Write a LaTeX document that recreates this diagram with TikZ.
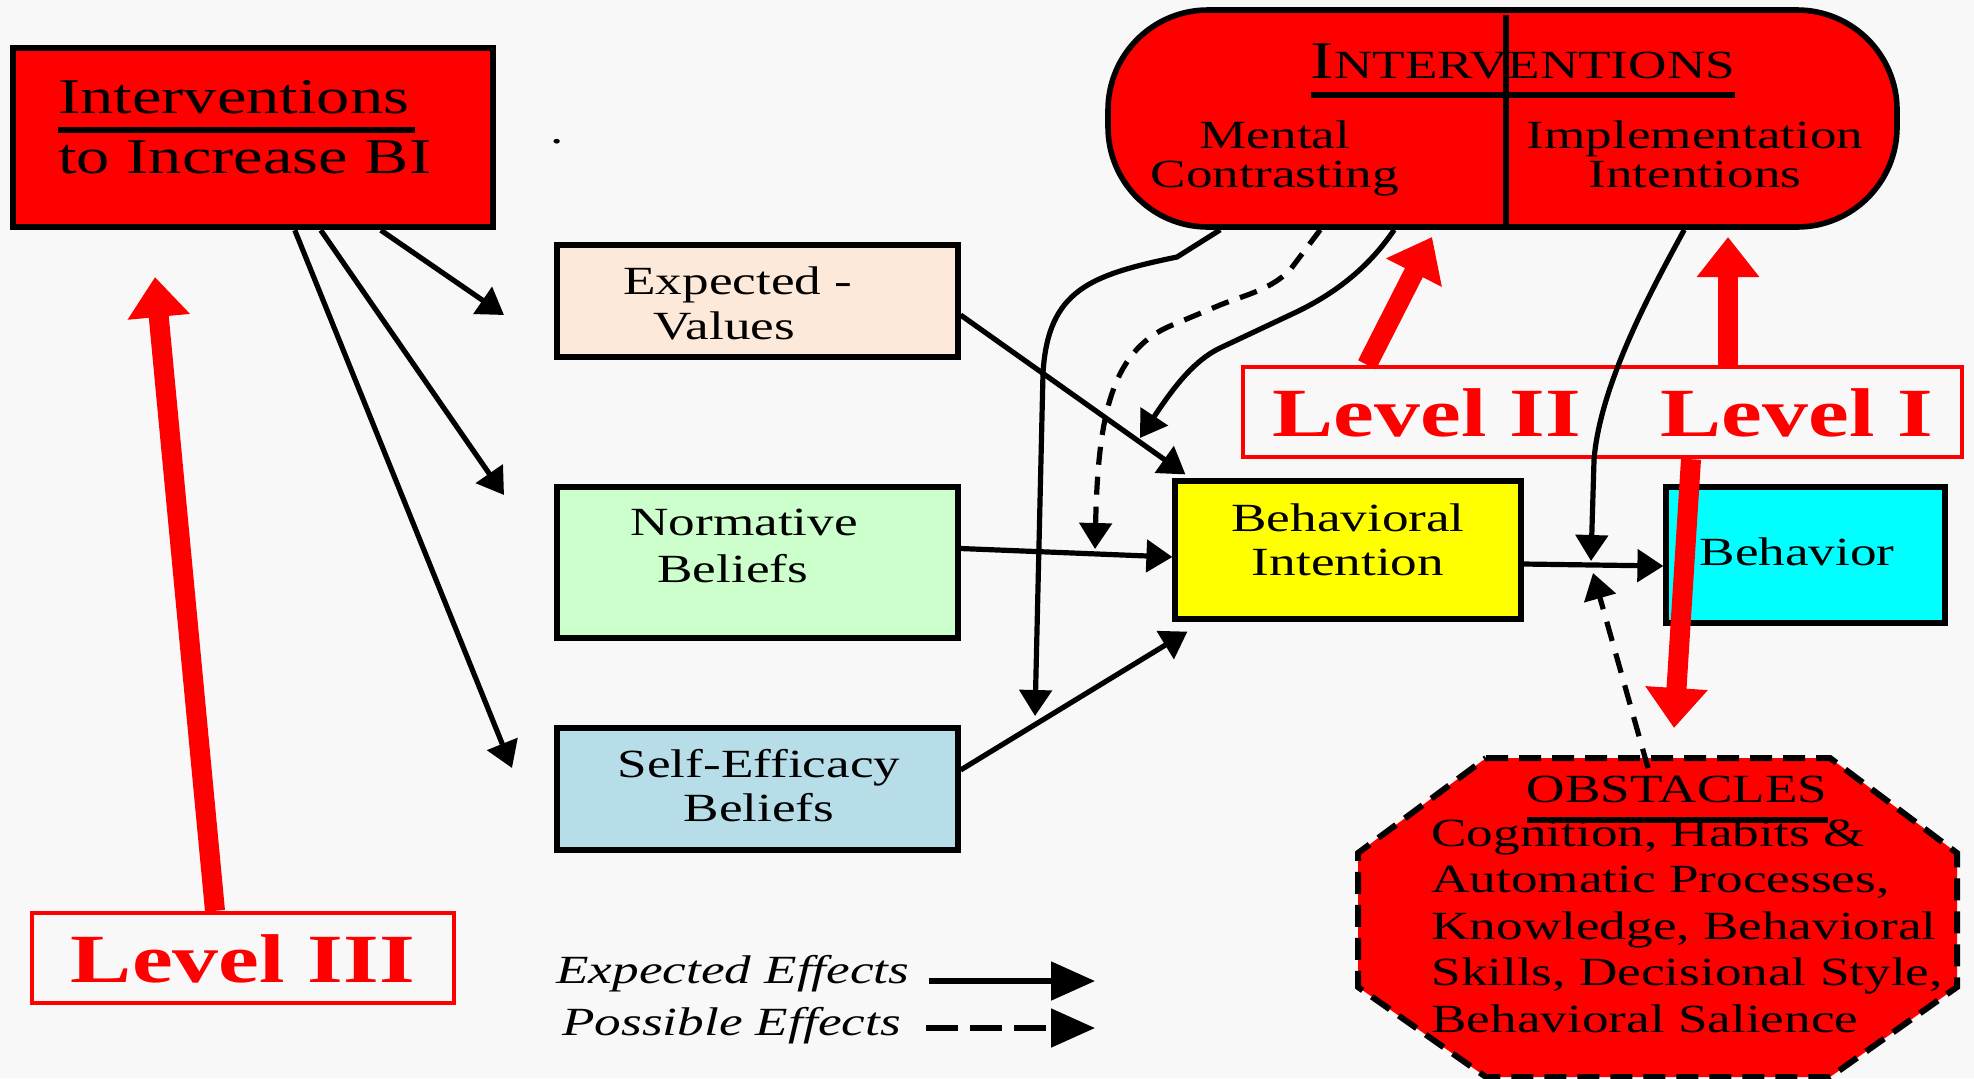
\documentclass[tikz,border=0pt]{standalone}
\usepackage{fontspec}
\setmainfont{Liberation Serif}[FakeStretch=1.33]
\usetikzlibrary{arrows.meta,calc}
\definecolor{bgc}{RGB}{248,248,248}
\definecolor{peach}{RGB}{253,233,217}
\definecolor{mint}{RGB}{204,255,204}
\definecolor{lblue}{RGB}{183,222,232}
\definecolor{pred}{RGB}{255,0,0}
\definecolor{pyellow}{RGB}{255,255,0}
\definecolor{pcyan}{RGB}{0,255,255}
\newcommand{\MyLines}[2][c]{\begin{tabular}[t]{@{}#1@{}}#2\end{tabular}}
\begin{document}
\begin{tikzpicture}[x=0.5pt,y=-0.5pt,
 box/.style={draw=black,line width=2.6pt,inner sep=0pt,rectangle},
 tx/.style={inner sep=0pt,anchor=base,font=\fontsize{20}{24}\selectfont},
 conn/.style={line width=2.6pt,-{Triangle[length=13pt,width=16pt]}},
 possible/.style={conn,dash pattern=on 9pt off 6pt},
 redarrow/.style={draw=pred,line width=10pt,-{Triangle[length=20pt,width=30pt]}},
 lvbox/.style={draw=pred,line width=2.2pt,inner sep=0pt,rectangle},
 lvtext/.style={tx,text=pred,font=\bfseries\fontsize{34.5}{40}\selectfont},
 legarrow/.style={line width=2.6pt,-{Triangle[length=22pt,width=19pt]}}
]
\fill[bgc] (0,0) rectangle (1974,1078);
\useasboundingbox (0,0) rectangle (1974,1078);

% Interventions to increase BI
\node[box,line width=3.2pt,fill=pred,minimum width=240pt,minimum height=89.5pt] (ib) at (253,137.5) {};
\node[tx,anchor=base west,font=\fontsize{25}{30}\selectfont] (ibt) at (58,113) {\MyLines[l]{Interventions\\to Increase BI}};
\draw[line width=2.8pt] ($(ibt.base west)+(0,17)$) -- ($(ibt.base west)+(357,17)$);
\node[tx] (dot) at (557,143) {.};

% Interventions pill
\node[draw,line width=2.8pt,fill=pred,rounded corners=50pt,minimum width=394.5pt,minimum height=108.5pt,inner sep=0pt] (pill) at (1502.5,118.5) {};
\draw[line width=2.6pt] ($(pill.north)+(3.5,8)$) -- ($(pill.south)+(3.5,0)$);
\node[tx] (intv) at (1523,78) {{\fontsize{26.5}{30}\selectfont I}NTERVENTIONS};
\draw[line width=2.8pt] ($(intv.base west)+(0,17)$) -- ($(intv.base east)+(0,17)$);
\node[tx,font=\fontsize{20}{19.5}\selectfont] (mc) at (1275,148) {\MyLines{Mental\\Contrasting}};
\node[tx,font=\fontsize{20}{19.5}\selectfont] (ii) at (1695,148) {\MyLines{Implementation\\Intentions}};

% determinant boxes
\node[box,fill=peach,minimum width=200.5pt,minimum height=56pt] (ev) at (757.5,301) {};
\node[tx,anchor=base west,font=\fontsize{20}{22.5}\selectfont] (evt) at (623,294) {\MyLines[l]{Expected -\\\hspace{15pt}Values}};
\node[box,fill=mint,minimum width=200.5pt,minimum height=75.5pt] (nb) at (757.5,562.5) {};
\node[tx,anchor=base west,font=\fontsize{20}{23.5}\selectfont] (nbt) at (630,535) {\MyLines[l]{Normative\\\hspace{13.5pt}Beliefs}};
\node[box,fill=lblue,minimum width=200.5pt,minimum height=61pt] (se) at (757.5,789) {};
\node[tx,font=\fontsize{20}{22}\selectfont] (set) at (759,777) {\MyLines{Self-Efficacy\\Beliefs}};
\node[box,fill=pyellow,minimum width=173pt,minimum height=69pt] (bi) at (1348,550) {};
\node[tx,font=\fontsize{20}{22}\selectfont] (bit) at (1348,531) {\MyLines{Behavioral\\Intention}};
\node[box,fill=pcyan,minimum width=139.5pt,minimum height=68pt] (beh) at (1805.5,555) {};
\node[tx] (beht) at (1797,565) {Behavior};

% obstacles octagon
\draw[fill=pred,line width=3pt,dash pattern=on 11pt off 5.5pt] (1486,758) -- (1830,758) -- (1957,853) -- (1957,987) -- (1830,1077) -- (1486,1077) -- (1358,987) -- (1358,853) -- cycle;
\node[tx] (obst) at (1677,802) {OBSTACLES};
\draw[line width=2.8pt] ($(obst.base west)+(0,18)$) -- ($(obst.base east)+(0,18)$);
\node[tx,anchor=base west,font=\fontsize{20}{23.25}\selectfont] (obsb) at (1431,846) {\MyLines[l]{Cognition, Habits \&\\Automatic Processes,\\Knowledge, Behavioral\\Skills, Decisional Style,\\Behavioral Salience}};
\coordinate (obsin) at (1648,768);

% level boxes
\node[lvbox,minimum width=211pt,minimum height=45pt] (lv3) at (243,958) {};
\node[lvtext] (lv3t) at (243,982) {Level III};
\node[lvbox,minimum width=359.5pt,minimum height=45pt] (lv12) at (1602.5,412) {};
\node[lvtext,anchor=base west] (lv2t) at (1272,436) {Level II};
\node[lvtext,anchor=base west] (lv1t) at (1660,436) {Level I};

% free ends
\coordinate (t1) at (504,315);
\coordinate (t2) at (504,495);
\coordinate (t3) at (512,768);
\coordinate (m4) at (1140,438);
\coordinate (m5) at (1095,549);
\coordinate (m6) at (1035,716);
\coordinate (m7) at (1591,561);
\coordinate (m7b) at (1593,573);
\coordinate (r3tip) at (155,277);
\coordinate (r2tip) at (1432,237);
\coordinate (r1tip) at (1728,237);
\coordinate (rdtip) at (1674,728);

% black connectors
\draw[conn] ($(ib.south west)+(371,0)$) -- (t1);
\draw[conn] ($(ib.south west)+(311,0)$) -- (t2);
\draw[conn] ($(ib.south west)+(285,0)$) -- (t3);
\draw[conn] ($(ev.east)+(0,14)$) -- ($(bi.north west)+(13,-4)$);
\draw[conn] ($(nb.east)+(0,-14)$) -- ($(bi.west)+(0,7)$);
\draw[conn] ($(se.east)+(0,-19)$) -- ($(bi.south west)+(15,10)$);
\draw[conn] ($(bi.east)+(0,14)$) -- ($(beh.west)+(0,11)$);
\draw[conn] ($(pill.south west)+(115,0)$) -- (1177,257) .. controls (1090,275) and (1048,290) .. (1043,373) -- (m6);
\draw[possible] ($(pill.south west)+(215,0)$) -- (1290,270) .. controls (1270,290) and (1245,295) .. (1220,305) -- (1170,326) .. controls (1110,352) and (1098,420) .. (m5);
\draw[conn] ($(pill.south west)+(289,0)$) .. controls (1375,258) and (1345,290) .. (1290,315) -- (1220,348) .. controls (1195,360) and (1175,385) .. (m4);
\draw[conn] ($(pill.south west)+(579,0)$) .. controls (1660,275) and (1600,380) .. (1594,460) -- (m7);
\draw[conn,dash pattern=on 10pt off 6.5pt] (obsin) -- (m7b);

% red arrows
\draw[redarrow] ($(lv3.north)+(-28,0)$) -- (r3tip);
\draw[redarrow] ($(lv12.north)+(-235.5,0)$) -- (r2tip);
\draw[redarrow] ($(lv12.north)+(125.5,0)$) -- (r1tip);
\draw[redarrow] ($(lv12.south)+(88.5,0)$) -- (rdtip);

% legend
\node[tx,anchor=base west,font=\itshape\fontsize{20}{24}\selectfont] (lgE) at (556,983) {Expected Effects};
\node[tx,anchor=base west,font=\itshape\fontsize{20}{24}\selectfont] (lgP) at (562,1035) {Possible Effects};
\coordinate (leE) at (1095,981);
\coordinate (leP) at (1095,1028);
\draw[legarrow] ($(lgE.base east)+(19,-2)$) -- (leE);
\draw[legarrow,dash pattern=on 16pt off 6pt] ($(lgP.base east)+(25,-7)$) -- (leP);
\end{tikzpicture}
\end{document}
